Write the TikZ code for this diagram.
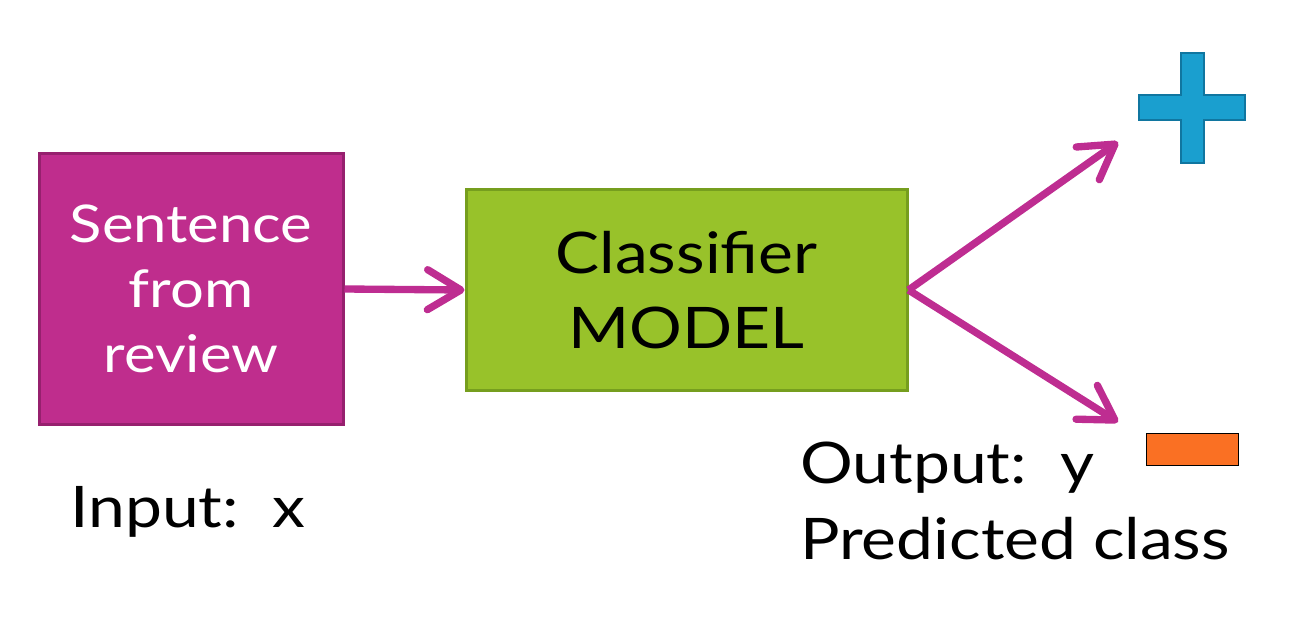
\documentclass[tikz,border=0pt]{standalone}
\usepackage{fontspec}
\setmainfont[FakeStretch=1.15]{Lato}
\usetikzlibrary{arrows.meta}

\definecolor{sentfill}{RGB}{191,45,141}
\definecolor{sentdraw}{RGB}{150,32,110}
\definecolor{modelfill}{RGB}{152,194,42}
\definecolor{modeldraw}{RGB}{118,158,30}
\definecolor{flowcol}{RGB}{190,45,145}
\definecolor{posfill}{RGB}{26,159,207}
\definecolor{posdraw}{RGB}{16,118,160}
\definecolor{negfill}{RGB}{250,112,35}

\tikzset{
  inbox/.style={draw=sentdraw, fill=sentfill, line width=2.25pt, minimum width=228pt, minimum height=202.5pt, inner sep=0pt, text=white, align=center, font=\fontsize{39}{48.75}\selectfont},
  modelbox/.style={draw=modeldraw, fill=modelfill, line width=2.25pt, minimum width=330.75pt, minimum height=150pt, inner sep=0pt, align=center, font=\fontsize{43}{56}\selectfont},
  flow/.style={draw=flowcol, line width=5.5pt, -{Straight Barb[length=25pt,width=30pt,round]}},
  lbl/.style={anchor=base west, inner sep=0pt, font=\fontsize{43}{50}\selectfont}
}

\begin{document}
\begin{tikzpicture}[x=0.75pt,y=0.75pt,yscale=-1,xscale=1]
    \useasboundingbox (0,0) rectangle (1314,638);
    % boxes
    \node [inbox] (sent) at (191,289) {Sentence\\from\\review};
    \node [modelbox] (model) at (686.5,290) {Classifier\\MODEL};
    % arrow ends
    \coordinate (up) at (1118,142);
    \coordinate (down) at (1118,422);
    % connectors
    \draw [flow] (sent.east) -- (model.west);
    \draw [flow] (model.east) -- (up);
    \draw [flow] (model.east) -- (down);
    % plus sign
    \draw [draw=posdraw, fill=posfill, line width=1.5pt] (1181,53) -- (1204,53) -- (1204,95) -- (1245,95) -- (1245,120) -- (1204,120) -- (1204,163) -- (1181,163) -- (1181,120) -- (1139,120) -- (1139,95) -- (1181,95) -- cycle ;
    % minus sign
    \node [draw=black, fill=negfill, line width=0.75pt, minimum width=69pt, minimum height=24pt, inner sep=0pt] (neg) at (1192,449) {};
    % labels
    \node [lbl] (inlbl) at (70,527) {Input:\ \ x};
    \node [lbl] (outlbl) at (800,483) {Output:\ \ y};
    \node [lbl] (predlbl) at (800,559) {Predicted class};
\end{tikzpicture}
\end{document}
